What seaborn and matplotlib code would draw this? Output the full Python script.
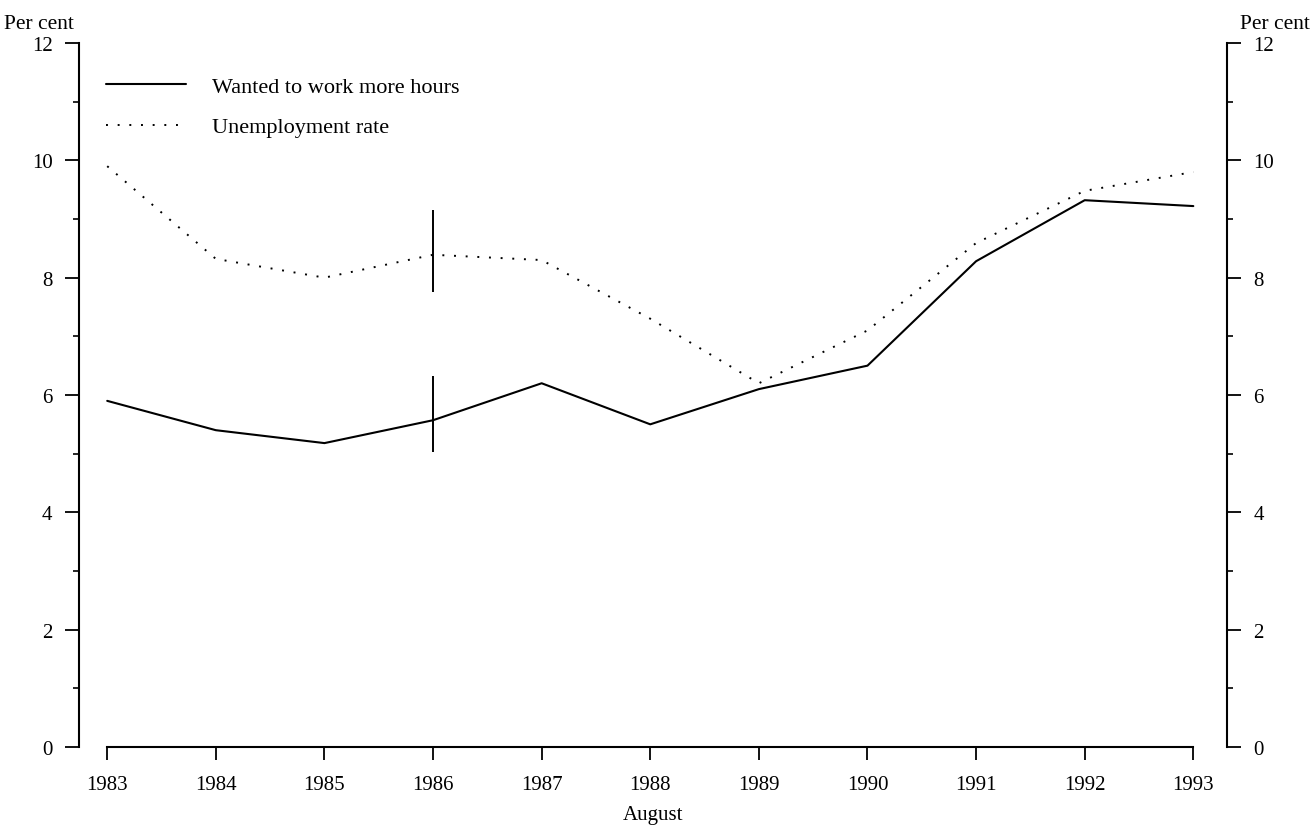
import pandas as pd
import seaborn as sns
import matplotlib.pyplot as plt
from matplotlib.ticker import MultipleLocator

years = [1983, 1984, 1985, 1986, 1987, 1988, 1989, 1990, 1991, 1992, 1993]
wanted_more_hours = [5.9, 5.4, 5.18, 5.57, 6.2, 5.5, 6.1, 6.5, 8.28, 9.32, 9.22]
unemployment_rate = [9.9, 8.32, 8.0, 8.39, 8.3, 7.3, 6.2, 7.1, 8.59, 9.48, 9.8]

# series break at 1986 (year, low, high)
break_year = 1986
wanted_break = (5.03, 6.32)
unemp_break = (7.76, 9.15)

sns.set_theme(style="white")
plt.rcParams['font.family'] = ['Liberation Serif', 'DejaVu Serif']
plt.rcParams.update({'text.color': 'black', 'axes.labelcolor': 'black',
                     'xtick.color': 'black', 'ytick.color': 'black'})

df = pd.DataFrame({'year': years, 'wanted': wanted_more_hours, 'unemp': unemployment_rate})

fig = plt.figure(figsize=(13.12, 8.28), dpi=100)
ax = fig.add_axes([0.0602, 0.0966, 0.875, 0.8503])

sns.lineplot(data=df, x='year', y='wanted', ax=ax, color='black', linewidth=1.5,
             label='Wanted to work more hours')
sns.lineplot(data=df, x='year', y='unemp', ax=ax, color='black', linewidth=1.4,
             linestyle=(0, (1, 5)), label='Unemployment rate')

ax.vlines(break_year, *wanted_break, color='black', linewidth=1.4)
ax.vlines(break_year, *unemp_break, color='black', linewidth=1.4)

ax.set_xlim(1982.74, 1993.31)
ax.set_ylim(0, 12)
ax.set_xticks(years)
ax.set_yticks(range(0, 13, 2))
ax.yaxis.set_minor_locator(MultipleLocator(1))
ax.set_xlabel('August', fontsize=15, labelpad=8)
ax.set_ylabel('')

ax.spines['top'].set_visible(False)
for s in ['left', 'right', 'bottom']:
    ax.spines[s].set_color('black')
    ax.spines[s].set_linewidth(1.5)
ax.spines['bottom'].set_bounds(1983, 1993)

ax.tick_params(axis='y', which='major', direction='out', length=10, width=1.3,
               labelsize=15, pad=9, left=True, right=True,
               labelleft=True, labelright=True)
ax.tick_params(axis='y', which='minor', direction='out', length=4, width=1.2,
               left=True, right=True)
ax.tick_params(axis='x', which='major', direction='out', length=9, width=1.3,
               labelsize=15, pad=11, bottom=True)

fig.text(0.003, 0.971, 'Per cent', fontsize=15.5, ha='left', va='center')
fig.text(0.998, 0.971, 'Per cent', fontsize=15.5, ha='right', va='center')

ax.legend(loc='upper left', bbox_to_anchor=(0.006, 0.981), frameon=False, fontsize=16,
          handlelength=3.6, handletextpad=1.17, labelspacing=0.9)

plt.savefig('out.png', dpi=100)
